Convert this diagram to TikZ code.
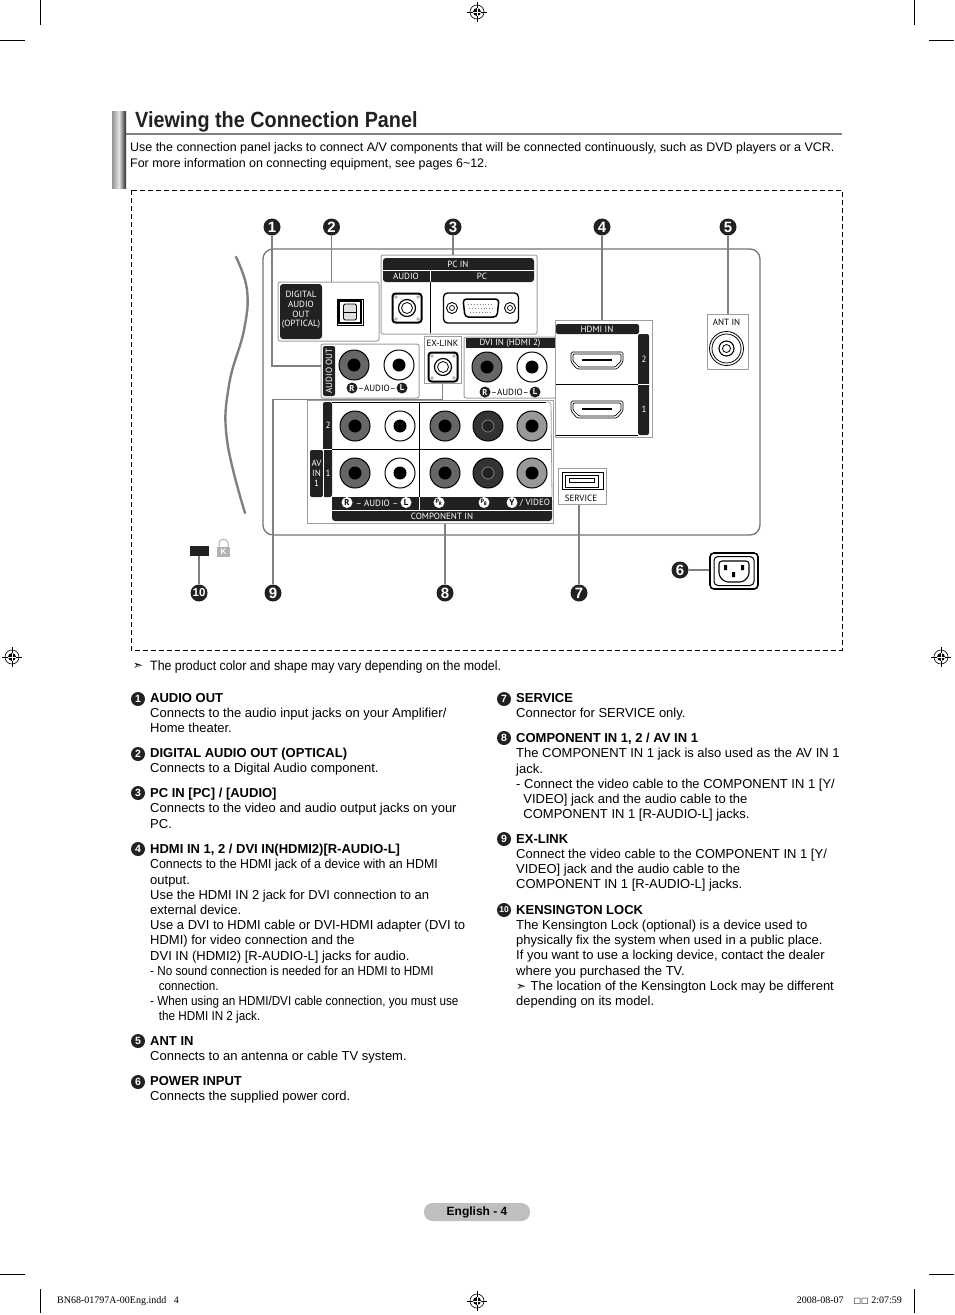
\documentclass[tikz,border=0pt]{standalone}
\usepackage{fontspec}
\setmainfont{Liberation Sans}
\newfontfamily\panelfont{PT Sans}
\newfontfamily\narrowfont[FakeStretch=0.9]{Liberation Sans}
\newfontfamily\wideopenfont[FakeStretch=0.95]{Liberation Sans}
\newfontfamily\notefont[FakeStretch=0.91]{Liberation Sans}
\newfontfamily\titlefont[FakeStretch=0.9]{Liberation Sans}
\newfontfamily\symfont{DejaVu Sans}
\newfontfamily\slugfont{Liberation Serif}
\usetikzlibrary{
    positioning,
    calc,
    fit,
}
\definecolor{inkdark}{gray}{0.13}
\definecolor{leadgray}{gray}{0.5}
\definecolor{boxgray}{gray}{0.62}
\definecolor{pillgray}{gray}{0.75}
\newcommand{\bodysize}{\fontsize{13}{15.2}\selectfont}
% Round jack with a dark centre
\newcommand{\jack}[4]{
    \node[jack body, fill=#4] (#1) at (#2,#3) {};
    \node[jack core] (#1 core) at (#1) {};
}
% Square jack with notched corners
\newcommand{\squarejack}[3]{
    \node[square jack] (#1) at (#2,#3) {};
    \foreach \dx/\dy in {-1/-1,1/-1,-1/1,1/1}
        \fill[gray!60] ($(#1)+(\dx*11,\dy*11)$) circle (1.8);
    \node[circle, draw=black, line width=1.2pt, minimum size=17pt, inner sep=0pt] (#1 ring) at (#1) {};
    \node[circle, draw=black, line width=.8pt, minimum size=11pt, inner sep=0pt] (#1 pin) at (#1) {};
}
\tikzset{
    % Panel styles
    panel/.style={rectangle, draw=boxgray, line width=1pt, inner sep=0pt},
    ink bar/.style={fill=inkdark, draw=none},
    jack body/.style={circle, draw=black, line width=1pt, minimum size=30pt, inner sep=0pt},
    jack core/.style={circle, fill=black, minimum size=13pt, inner sep=0pt},
    square jack/.style={rectangle, draw=black, fill=white, line width=2pt, rounded corners=3pt, minimum size=29pt, inner sep=0pt},
    port text/.style={font=\panelfont\fontsize{9}{9.8}\selectfont, inner sep=0pt, align=center},
    bar text/.style={port text, text=white},
    tag/.style={circle, inner sep=0pt, minimum size=11pt, font=\panelfont\bfseries\fontsize{8.5}{8.5}\selectfont},
    dark tag/.style={tag, fill=inkdark, text=white},
    light tag/.style={tag, fill=white, text=black},
    % Callouts and text
    callout/.style={circle, fill=inkdark, text=white, inner sep=0pt, minimum size=17pt, font=\bfseries\fontsize{15}{15}\selectfont},
    bullet/.style={circle, fill=inkdark, text=white, inner sep=0pt, minimum size=14pt, font=\bfseries\fontsize{10.5}{10.5}\selectfont},
    leader/.style={draw=leadgray, line width=1.2pt},
    body/.style={anchor=north west, inner sep=0pt, align=left, font=\bodysize},
    crop/.style={draw=black, line width=.8pt},
    hdmi port/.pic={
        \draw[line width=.7pt, rounded corners=1.5pt] (-26,-8) -- (26,-8) -- (26,2) -- (20,9) -- (-20,9) -- (-26,2) -- cycle;
        \draw[line width=.7pt, rounded corners=1pt] (-24,-6) -- (24,-6) -- (24,1) -- (18,7) -- (-18,7) -- (-24,1) -- cycle;
        \draw[line width=1.3pt] (-15,0) -- (15,0);
    },
    reg mark/.pic={
        \draw[line width=.6pt] (0,0) circle (7);
        \fill[black] (0,0) circle (4);
        \draw[line width=.6pt] (-10,0) -- (10,0) (0,-10) -- (0,10);
        \draw[white, line width=.6pt] (-4,0) -- (4,0) (0,-4) -- (0,4);
    },
}
\begin{document}
\begin{tikzpicture}[x=1pt, y=-1pt]
    \useasboundingbox (0,0) rectangle (954,1315);

    % Crop and registration marks
    \draw[crop] (40,0) -- (40,25) (0,40) -- (25,40) (914,0) -- (914,25) (929,40) -- (954,40);
    \draw[crop] (0,1274) -- (25,1274) (929,1274) -- (954,1274) (40,1289) -- (40,1313) (914,1289) -- (914,1313);
    \foreach \x/\y in {477/12, 12/657, 941/657, 477/1301}
        \pic at (\x,\y) {reg mark};

    % Heading
    \shade[left color=gray!85, right color=black!85, middle color=gray!20] (112,111) rectangle (126,188);
    \draw[draw=gray, line width=1.4pt] (126,134) -- (842,134);
    \node[anchor=west, inner sep=0pt, font=\titlefont\bfseries\fontsize{22}{24}\selectfont, text=inkdark] (title) at (135,122) {Viewing the Connection Panel};
    \node[body, font=\fontsize{12.45}{16}\selectfont] (intro) at (130,142) {Use the connection panel jacks to connect A/V components that will be connected continuously, such as DVD players or a VCR.\\For more information on connecting equipment, see pages 6\textasciitilde12.};

    % Frame and TV back
    \draw[black, line width=.8pt, dash pattern=on 5pt off 3pt] (131,190) rectangle (842,650);
    \draw[draw=gray!90!black, line width=1.3pt, rounded corners=10pt] (263,249) rectangle (760,535);
    \draw[gray, line width=2.4pt, line cap=round] plot[smooth, tension=.7] coordinates {(236,257) (247,290) (244,330) (229,385) (227,440) (245,513)};

    % Optical
    \node[panel, rounded corners=2pt, fit={(278,282) (379,341)}] (optical) {};
    \fill[ink bar, rounded corners=3pt] (280,284) rectangle (322,339);
    \node[bar text] (optical label) at (301,310) {DIGITAL\\AUDIO\\OUT\\(OPTICAL)};
    \node[rectangle, draw=black, line width=.8pt, minimum size=26pt, inner sep=0pt] (optical port) at (350,312) {};
    \node[rectangle, draw=black, line width=1.2pt, minimum size=22pt, inner sep=0pt] (optical core) at (350,312) {};
    \node[rectangle, draw=black, fill=gray!25, rounded corners=1.5pt, line width=.8pt, minimum width=13pt, minimum height=16pt, inner sep=0pt] (optical gate) at (350,312) {};
    \draw[line width=.7pt] (optical gate.west) -- (optical gate.east);

    % PC IN
    \node[panel, rounded corners=2pt, fit={(381,255) (537,334)}] (pcin) {};
    \fill[ink bar, rounded corners=3pt] (383,258) -- (534,258) -- (534,282) -- (383,282) -- cycle;
    \draw[white, line width=.7pt] (383,270.5) -- (534,270.5);
    \draw[black, line width=.8pt] (430,271) -- (430,333);
    \draw[white, line width=.8pt] (430,271) -- (430,282);
    \node[bar text] (pcin label) at (458,264.5) {PC IN};
    \node[bar text] (pcin audio) at (406,276.5) {AUDIO};
    \node[bar text] (pcin pc) at (482,276.5) {PC};
    \squarejack{pcaudio}{407}{308}
    \node[rectangle, draw=black, fill=white, line width=1.3pt, rounded corners=4pt, minimum width=75pt, minimum height=30pt, inner sep=0pt] (vga) at (481,308) {};
    \foreach \x in {452,510} {
        \draw[line width=.9pt] (\x,308) circle (5.5);
        \draw[line width=.7pt] (\x,308) circle (2.5);
    }
    \draw[line width=1.5pt, rounded corners=3.5pt] (463,299) -- (499,299) -- (497,317) -- (465,317) -- cycle;
    \draw[gray, line width=.9pt, dotted] (468,304) -- (494,304) (469,308) -- (493,308) (470,312) -- (492,312);

    % AUDIO OUT
    \node[panel, rounded corners=2pt, fit={(321,344) (419,398)}] (audioout) {};
    \fill[ink bar, rounded corners=2pt] (323,346) rectangle (335,396);
    \node[bar text, rotate=90] (audioout label) at (329,371) {AUDIO OUT};
    \jack{outR}{354}{365}{black!60}
    \jack{outL}{399}{365}{white}
    \node[dark tag] (outR tag) at (352,388) {R};
    \node[port text] (outA tag) at (377,388.5) {–AUDIO–};
    \node[dark tag] (outL tag) at (402,388) {L};

    % EX-LINK
    \node[panel, fit={(424,336) (461,383)}] (exlink) {};
    \node[port text] (exlink label) at (442.5,343) {EX-LINK};
    \squarejack{exjack}{443}{367}

    % DVI IN
    \node[panel, rounded corners=2pt, fit={(464,337) (556,398)}] (dvi) {};
    \fill[ink bar] (466,338) rectangle (556,348);
    \node[bar text] (dvi label) at (510,343) {DVI IN (HDMI 2)};
    \jack{dviR}{487}{367}{black!60}
    \jack{dviL}{532}{367}{white}
    \node[dark tag] (dviR tag) at (485,392) {R};
    \node[port text] (dviA tag) at (510,392.5) {–AUDIO–};
    \node[dark tag] (dviL tag) at (535,392) {L};

    % HDMI
    \node[panel, fit={(555,320) (652,437)}, fill=white] (hdmi) {};
    \fill[ink bar, rounded corners=2pt] (556,324) rectangle (639,334);
    \fill[ink bar, rounded corners=2pt] (638,334) rectangle (649,435);
    \draw[black, line width=.9pt] (556,384) -- (638,384) (556,435) -- (638,435);
    \draw[white, line width=.9pt] (638,384) -- (649,384);
    \node[bar text] (hdmi label) at (597,329) {HDMI IN};
    \node[bar text] (hdmi two) at (644,359) {2};
    \node[bar text] (hdmi one) at (644,409) {1};
    \pic at (597,360) {hdmi port};
    \pic at (597,409) {hdmi port};

    % ANT IN
    \node[panel, fit={(707,314) (748,369)}] (antin) {};
    \node[port text] (antin label) at (726.5,322) {ANT IN};
    \node[circle, draw=black, line width=.8pt, minimum size=34pt, inner sep=0pt] (ant outer) at (726.5,348.5) {};
    \node[circle, draw=black, line width=.8pt, minimum size=29pt, inner sep=0pt] (ant inner) at (726.5,348.5) {};
    \node[circle, draw=black, line width=1.1pt, minimum size=15pt, inner sep=0pt] (ant ring) at (726.5,348.5) {};
    \node[circle, draw=black, line width=.8pt, minimum size=8pt, inner sep=0pt] (ant pin) at (726.5,348.5) {};

    % AV and component block
    \node[panel, fit={(307,400) (553,523)}] (avbox) {};
    \fill[ink bar, rounded corners=2pt] (323,402) rectangle (332,497);
    \fill[ink bar, rounded corners=2pt] (310,450) rectangle (323,497);
    \fill[ink bar, rounded corners=3pt] (332,497) rectangle (552,521);
    \fill[ink bar] (332,497) rectangle (552,505);
    \draw[white, line width=.7pt] (323,450) -- (323,497) (332,510.5) -- (552,510.5) (323,449) -- (332,449);
    \draw[black, line width=.8pt] (332,402) -- (546,402) (332,449) -- (552,449) (419,402) -- (419,497);
    \draw[boxgray, line width=.8pt, rounded corners=3pt] (546,402) -- (551,402) -- (552,497);
    \draw[white, line width=.8pt] (419,497) -- (419,510);
    \node[bar text] (av two) at (328,425) {2};
    \node[bar text] (av one) at (328,473) {1};
    \node[bar text] (av label) at (316.5,473) {AV\\IN\\1};
    \foreach \y/\r in {426/top, 473/low}
        \foreach \x/\n/\f in {355/R/black!60, 400/L/white, 445/C/black!60, 532/Y/black!40}
            \jack{\r\n}{\x}{\y}{\f};
    \foreach \y/\r in {426/top, 473/low} {
        \node[jack body, fill=black!80] (\r B) at (488,\y) {};
        \node[circle, fill=inkdark, minimum size=12pt, inner sep=0pt, draw=gray, line width=.8pt] (\r B core) at (488,\y) {};
    }
    \node[light tag] (avR tag) at (347,502.5) {R};
    \node[bar text] (avA tag) at (377,503) {– AUDIO –};
    \node[light tag] (avL tag) at (406,502.5) {L};
    \node[light tag] (avPr tag) at (439,502.5) {\fontsize{6}{6}\selectfont P\textsubscript{R}};
    \node[light tag] (avPb tag) at (484,502.5) {\fontsize{6}{6}\selectfont P\textsubscript{B}};
    \node[light tag] (avY tag) at (512,502.5) {Y};
    \node[bar text] (avV tag) at (535,503) {/ VIDEO};
    \node[bar text] (component label) at (442,516) {COMPONENT IN};

    % SERVICE
    \node[panel, fit={(558,468) (606,504)}] (service) {};
    \node[rectangle, draw=black, line width=.8pt, minimum width=41pt, minimum height=17pt, inner sep=0pt] (service port) at (582.5,481) {};
    \node[rectangle, draw=black, line width=.8pt, minimum width=33pt, minimum height=12pt, inner sep=0pt] (service shell) at (582,481) {};
    \node[rectangle, draw=black, line width=.6pt, minimum width=25pt, minimum height=4pt, inner sep=0pt] (service tongue) at (581.5,480) {};
    \node[port text] (service label) at (581,498) {SERVICE};

    % Power socket
    \node[rectangle, draw=black, line width=1.6pt, rounded corners=4pt, minimum width=48pt, minimum height=36pt, inner sep=0pt] (power) at (734,571) {};
    \node[rectangle, draw=black, line width=1pt, rounded corners=4pt, minimum width=40pt, minimum height=29pt, inner sep=0pt] (power shell) at (734,571) {};
    \draw[line width=1.1pt, rounded corners=3pt] (719,561) -- (749,561) -- (749,576) -- (743,582) -- (725,582) -- (719,576) -- cycle;
    \fill[black] (724,565) rectangle (727,570) (741,565) rectangle (744,570) (732,572) rectangle (735,577);

    % Kensington lock
    \node[rectangle, fill=inkdark, minimum width=19pt, minimum height=10pt, inner sep=0pt] (kensington) at (199.5,551) {};
    \draw[gray!60, line width=1pt] (219,547) -- (219,543) .. controls (219,538) and (228,538) .. (228,543) -- (228,547);
    \node[rectangle, fill=gray!60, text=white, minimum width=13pt, minimum height=10pt, inner sep=0pt, font=\bfseries\fontsize{8}{8}\selectfont] (lock) at (223.5,552) {K};

    % Callouts
    \foreach \n/\x/\y in {1/272/227, 2/331.5/227, 3/453/227, 4/602/227, 5/728/227, 6/680/570, 7/579/593, 8/445/593, 9/273/593, 10/199/593}
        \node[callout] (call \n) at (\x,\y) {\ifnum\n=10 \fontsize{11.5}{11.5}\selectfont\fi\n};

    % Leaders
    \draw[leader] (call 1) |- ([yshift=5pt]audioout.west);
    \draw[leader] (call 2) -- (call 2 |- optical.north);
    \draw[leader] (call 3) -- (call 3 |- pcin.north);
    \draw[leader] (call 4) -- (call 4 |- hdmi.north);
    \draw[leader] (call 5) -- (call 5 |- antin.north);
    \draw[leader] (call 6) -- (power.west |- call 6);
    \draw[leader] (call 7) -- (call 7 |- service.south);
    \draw[leader] (call 8) -- (call 8 |- avbox.south);
    \draw[leader] (call 9) |- (exlink.south |- avbox.north) -- (exlink.south);
    \draw[leader] (call 10) -- (call 10 |- kensington.south);

    % Note
    \node[inner sep=0pt, font=\symfont\fontsize{12}{12}\selectfont] (note mark) at (138,666) {➣};
    \node[anchor=west, inner sep=0pt, font=\notefont\fontsize{13.6}{15}\selectfont] (note) at (150,667) {The product color and shape may vary depending on the model.};

    % Bullets
    \foreach \n/\x/\y in {1/138/699, 2/138/754, 3/138/793, 4/138/849, 5/138/1041, 6/138/1082, 7/504/699, 8/504/738, 9/504/839, 10/504/910}
        \node[bullet] (mark \n) at (\x,\y) {\ifnum\n=10 \fontsize{8.5}{8.5}\selectfont\fi\n};

    % Left column
    \node[body] (text 1) at (150,693) {\textbf{AUDIO OUT}\\Connects to the audio input jacks on your Amplifier/\\Home theater.};
    \node[body] (text 2) at (150,748) {\textbf{DIGITAL AUDIO OUT (OPTICAL)}\\Connects to a Digital Audio component.};
    \node[body] (text 3) at (150,788) {\textbf{PC IN [PC] / [AUDIO]}\\Connects to the video and audio output jacks on your\\PC.};
    \node[body] (text 4) at (150,844) {\textbf{HDMI IN 1, 2 / DVI IN(HDMI2)[R-AUDIO-L]}\\{\wideopenfont Connects to the HDMI jack of a device with an HDMI}\\output.\\Use the HDMI IN 2 jack for DVI connection to an\\external device.\\Use a DVI to HDMI cable or DVI-HDMI adapter (DVI to\\HDMI) for video connection and the\\DVI IN (HDMI2) [R-AUDIO-L] jacks for audio.\\{\narrowfont - No sound connection is needed for an HDMI to HDMI}\\{\narrowfont\ \ \,connection.}\\{\narrowfont - When using an HDMI/DVI cable connection, you must use}\\{\narrowfont\ \ \,the HDMI IN 2 jack.}};
    \node[body] (text 5) at (150,1036) {\textbf{ANT IN}\\Connects to an antenna or cable TV system.};
    \node[body] (text 6) at (150,1076) {\textbf{POWER INPUT}\\Connects the supplied power cord.};

    % Right column
    \node[body] (text 7) at (516,693) {\textbf{SERVICE}\\Connector for SERVICE only.};
    \node[body] (text 8) at (516,733) {\textbf{COMPONENT IN 1, 2 / AV IN 1}\\The COMPONENT IN 1 jack is also used as the AV IN 1\\jack.\\- Connect the video cable to the COMPONENT IN 1 [Y/\\\ \ VIDEO] jack and the audio cable to the\\\ \ COMPONENT IN 1 [R-AUDIO-L] jacks.};
    \node[body] (text 9) at (516,834) {\textbf{EX-LINK}\\Connect the video cable to the COMPONENT IN 1 [Y/\\VIDEO] jack and the audio cable to the\\COMPONENT IN 1 [R-AUDIO-L] jacks.};
    \node[body] (text 10) at (516,905) {\textbf{KENSINGTON LOCK}\\The Kensington Lock (optional) is a device used to\\physically fix the system when used in a public place.\\If you want to use a locking device, contact the dealer\\where you purchased the TV.\\{\symfont\fontsize{12}{12}\selectfont ➣}\,\,The location of the Kensington Lock may be different\\depending on its model.};

    % Page number and slug
    \node[rectangle, fill=pillgray, rounded corners=8.5pt, minimum width=106pt, minimum height=18pt, inner sep=0pt, font=\bfseries\fontsize{12}{12}\selectfont] (page) at (477,1212) {English - 4};
    \node[anchor=west, inner sep=0pt, font=\slugfont\fontsize{10}{10}\selectfont] (slug left) at (57,1301) {BN68-01797A-00Eng.indd\ \ \ 4};
    \node[anchor=east, inner sep=0pt, font=\slugfont\fontsize{10}{10}\selectfont] (slug right) at (902,1301) {2008-08-07\ \ \ \ {\symfont\fontsize{8}{8}\selectfont □□} 2:07:59};
\end{tikzpicture}
\end{document}
